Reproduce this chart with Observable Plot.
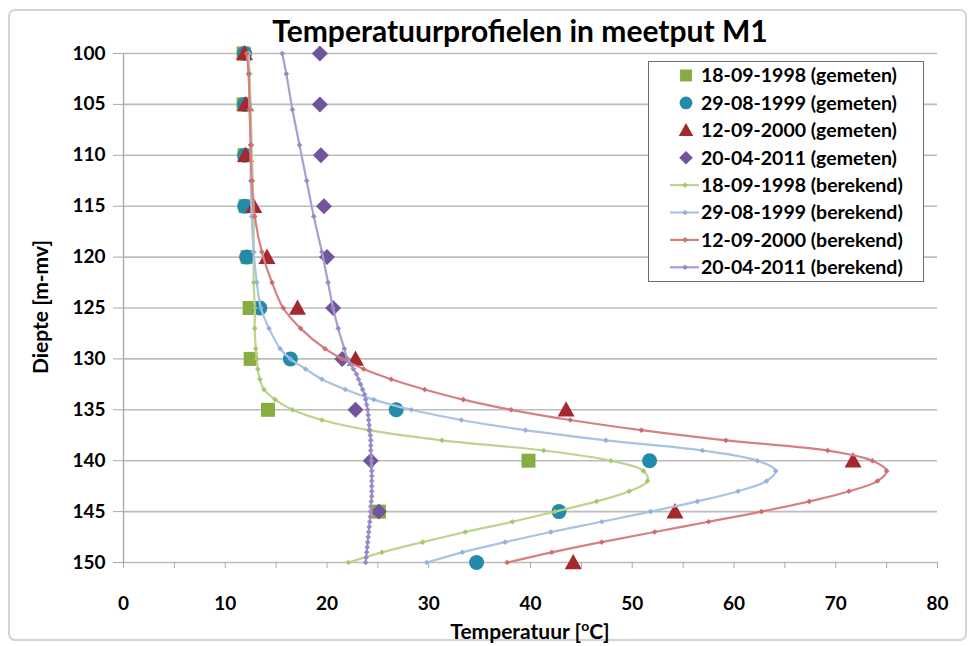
<!DOCTYPE html>
<html>
<head>
<meta charset="utf-8">
<script src="https://cdn.jsdelivr.net/npm/d3@7"></script>
<script src="https://cdn.jsdelivr.net/npm/@observablehq/plot@0.6"></script>
<style>
  html, body { margin: 0; padding: 0; background: white; }
  #chart { width: 974px; height: 646px; }
</style>
</head>
<body>
<div id="chart"></div>
<script>
// ---------- data ----------
const title = "Temperatuurprofielen in meetput M1";
const yLabel = "Diepte [m-mv]";
const xTicks = [0, 10, 20, 30, 40, 50, 60, 70, 80];
const xMinorTicks = [0, 5, 10, 15, 20, 25, 30, 35, 40, 45, 50, 55, 60, 65, 70, 75, 80];
const yTicks = [100, 105, 110, 115, 120, 125, 130, 135, 140, 145, 150];

const seriesNames = ["18-09-1998", "29-08-1999", "12-09-2000", "20-04-2011"];

// measured (gemeten)
const depthMeasured = [100, 105, 110, 115, 120, 125, 130, 135, 140, 145, 150];
const meas1998 = [11.8, 11.8, 11.9, 12.0, 12.2, 12.4, 12.5, 14.2, 39.8, 25.1, null];
const meas1999 = [11.9, 11.9, 11.9, 11.9, 12.1, 13.4, 16.4, 26.8, 51.7, 42.8, 34.7];
const meas2000 = [11.9, 12.0, 12.0, 12.8, 14.1, 17.1, 22.8, 43.5, 71.7, 54.2, 44.2];
const meas2011 = [19.3, 19.3, 19.4, 19.7, 20.0, 20.6, 21.5, 22.8, 24.3, 25.1, null];

// calculated (berekend)
const depthCalc = [100, 102, 105.5, 109, 112.5, 116, 119.5, 122.5, 125, 127, 129, 130,
  131, 132, 133, 134, 135, 136, 137, 138, 139, 140, 141, 142, 143, 144, 145, 146, 147, 148, 149, 150];
const calc1998 = [12.3, 12.4, 12.5, 12.6, 12.7, 12.8, 12.8, 12.8, 12.9, 12.9, 13.0, 13.1,
  13.2, 13.4, 13.8, 14.9, 16.6, 19.5, 24.1, 31.3, 41.3, 47.9, 51.1, 51.5, 49.7, 46.5, 42.4, 38.2, 33.6, 29.4, 25.4, 22.1];
const calc1999 = [12.2, 12.3, 12.4, 12.5, 12.5, 12.6, 12.8, 13.1, 13.5, 14.3, 15.4, 16.4,
  17.9, 19.5, 21.8, 24.6, 28.3, 33.2, 39.5, 47.4, 56.9, 62.3, 64.1, 63.2, 60.4, 56.4, 51.8, 47.0, 42.0, 37.5, 33.3, 29.8];
const calc2000 = [12.1, 12.3, 12.4, 12.5, 12.6, 12.9, 13.6, 14.6, 15.7, 17.4, 19.8, 21.5,
  23.6, 26.3, 29.6, 33.4, 38.1, 43.9, 50.9, 59.2, 69.2, 73.6, 75.0, 74.1, 71.3, 67.4, 62.7, 57.5, 52.2, 47.0, 42.1, 37.7];
const depthCalc2011 = [100, 102, 105.5, 109, 112.5, 116, 119.5, 122.5, 125, 127, 129,
  130, 130.5, 131, 131.5, 132, 132.5, 133, 133.5, 134, 134.5, 135, 135.5, 136, 136.5, 137, 137.5,
  138, 138.5, 139, 139.5, 140, 140.5, 141, 141.5, 142, 142.5, 143, 143.5, 144, 144.5, 145, 145.5,
  146, 146.5, 147, 147.5, 148, 148.5, 149, 149.5, 150];
const calc2011 = [15.6, 16.0, 16.6, 17.3, 18.0, 18.7, 19.5, 20.1, 20.6, 21.1, 21.7,
  22.0, 22.3, 22.6, 22.9, 23.1, 23.3, 23.5, 23.7, 23.8, 23.9, 24.0, 24.05, 24.1, 24.15, 24.2, 24.25,
  24.3, 24.3, 24.3, 24.35, 24.35, 24.4, 24.4, 24.4, 24.4, 24.4, 24.4, 24.4, 24.35, 24.3, 24.3, 24.25,
  24.2, 24.15, 24.1, 24.05, 24.0, 23.95, 23.9, 23.85, 23.8];

// ---------- styles ----------
const measColors = ["#86ad3f", "#238ba8", "#a5282c", "#71549c"];
const lineColors = ["#bdd48f", "#a9c3e3", "#d88080", "#ab9dd2"];
const markColors = ["#a8c66e", "#93b3dc", "#cf6b6b", "#9989c6"];

// custom symbols (r = half extent in px)
const sq = {draw(c, s) { const e = Math.sqrt(s / Math.PI); c.rect(-e, -e, 2 * e, 2 * e); }};
const ci = {draw(c, s) { const e = Math.sqrt(s / Math.PI); c.moveTo(e, 0); c.arc(0, 0, e, 0, 2 * Math.PI); }};
const tr = {draw(c, s) { const e = Math.sqrt(s / Math.PI); c.moveTo(0, -e); c.lineTo(e, e * 0.8); c.lineTo(-e, e * 0.8); c.closePath(); }};
const di = {draw(c, s) { const e = Math.sqrt(s / Math.PI); c.moveTo(0, -e); c.lineTo(e, 0); c.lineTo(0, e); c.lineTo(-e, 0); c.closePath(); }};
const measSymbols = [sq, ci, tr, di];
const measR = [7, 7.5, 8.5, 8];

const measuredSeries = [meas1998, meas1999, meas2000, meas2011];
const calcSeries = [
  {depth: depthCalc, temp: calc1998},
  {depth: depthCalc, temp: calc1999},
  {depth: depthCalc, temp: calc2000},
  {depth: depthCalc2011, temp: calc2011}
];

const measMarks = measuredSeries.map((vals, i) => {
  const rows = depthMeasured.map((d, j) => ({d, t: vals[j]})).filter(r => r.t != null);
  return Plot.dot(rows, {x: "t", y: "d", symbol: () => measSymbols[i], r: measR[i], fill: measColors[i], stroke: "none"});
});
const calcMarks = calcSeries.flatMap((s, i) => {
  const rows = s.depth.map((d, j) => ({d, t: s.temp[j]}));
  return [
    Plot.line(rows, {x: "t", y: "d", stroke: lineColors[i], strokeWidth: 2.2, curve: "catmull-rom"}),
    Plot.dot(rows, {x: "t", y: "d", symbol: () => di, r: 2.8, fill: markColors[i], stroke: "none"})
  ];
});

const chart = Plot.plot({
  width: 974,
  height: 646,
  marginLeft: 123,
  marginRight: 37,
  marginTop: 53,
  marginBottom: 84,
  x: {domain: [0, 80]},
  y: {domain: [100, 150], reverse: true},
  style: {fontFamily: "Lato, 'Open Sans', sans-serif", color: "black", background: "white", overflow: "visible"},
  marks: [
    Plot.gridY(yTicks, {stroke: "#bcbcbc", strokeOpacity: 1, strokeWidth: 1.6}),
    Plot.ruleX([0], {stroke: "#a8a8a8", strokeWidth: 1.3}),
    Plot.axisY({ticks: yTicks, tickSize: 10, tickPadding: 8, stroke: "#a8a8a8", fill: "black", fontSize: 19, fontWeight: "bold", label: null}),
    Plot.axisX({ticks: xMinorTicks, tickSize: 6, tickFormat: () => "", stroke: "#a8a8a8", label: null}),
    Plot.axisX({ticks: xTicks, tickSize: 0, tickPadding: 34, fill: "black", fontSize: 19, fontWeight: "bold", label: null}),
    ...measMarks,
    ...calcMarks
  ]
});

document.getElementById("chart").appendChild(chart);

// ---------- annotations: frame, title, axis titles, legend ----------
const svg = d3.select(chart);
svg.insert("rect", ":first-child")
  .attr("x", 9).attr("y", 10).attr("width", 957).attr("height", 630)
  .attr("rx", 6).attr("fill", "white").attr("stroke", "#d4d4d4").attr("stroke-width", 2);

const font = "Lato, 'Open Sans', sans-serif";
svg.append("text")
  .attr("x", 520).attr("y", 42)
  .attr("text-anchor", "middle")
  .attr("font-family", font).attr("font-weight", "bold").attr("font-size", 30)
  .attr("fill", "black")
  .text(title);

svg.append("text")
  .attr("transform", "translate(48,307) rotate(-90)")
  .attr("text-anchor", "middle")
  .attr("font-family", font).attr("font-weight", "bold").attr("font-size", 21)
  .attr("fill", "black")
  .text(yLabel);

const xl = svg.append("text")
  .attr("x", 530).attr("y", 639)
  .attr("text-anchor", "middle")
  .attr("font-family", font).attr("font-weight", "bold").attr("font-size", 21)
  .attr("fill", "black");
xl.append("tspan").text("Temperatuur [");
xl.append("tspan").attr("font-size", 14).attr("dy", -8).text("o");
xl.append("tspan").attr("dy", 8).text("C]");

// legend
const lg = svg.append("g");
lg.append("rect")
  .attr("x", 648.5).attr("y", 61.5).attr("width", 275).attr("height", 220)
  .attr("fill", "white").attr("stroke", "#6e6e6e").attr("stroke-width", 1);
const legendItems = [
  ...seriesNames.map((n, i) => ({label: n + " (gemeten)", kind: "m", i})),
  ...seriesNames.map((n, i) => ({label: n + " (berekend)", kind: "c", i}))
];
legendItems.forEach((it, k) => {
  const cy = 75.5 + k * 27.4;
  const g = lg.append("g");
  if (it.kind === "m") {
    const sym = d3.symbol().type(measSymbols[it.i]).size(Math.PI * Math.pow(measR[it.i] * 0.85, 2));
    g.append("path").attr("d", sym()).attr("transform", `translate(686,${cy})`).attr("fill", measColors[it.i]);
  } else {
    g.append("line").attr("x1", 670).attr("x2", 699).attr("y1", cy).attr("y2", cy)
      .attr("stroke", lineColors[it.i]).attr("stroke-width", 2.2);
    const sym = d3.symbol().type(di).size(Math.PI * 2.8 * 2.8);
    g.append("path").attr("d", sym()).attr("transform", `translate(685,${cy})`).attr("fill", markColors[it.i]);
  }
  g.append("text").attr("x", 701).attr("y", cy).attr("dy", "0.35em")
    .attr("text-anchor", "start")
    .attr("font-family", font).attr("font-weight", "bold").attr("font-size", 19.5)
    .attr("fill", "black").text(it.label);
});
</script>
</body>
</html>
